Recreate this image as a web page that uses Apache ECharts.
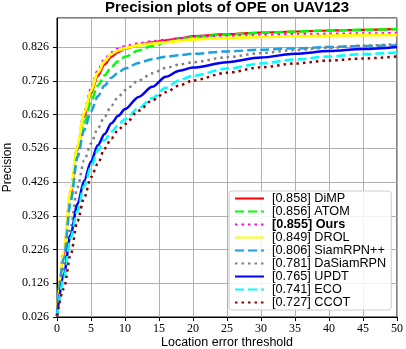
<!DOCTYPE html>
<html>
<head>
<meta charset="utf-8">
<script src="https://cdn.jsdelivr.net/npm/echarts@6/dist/echarts.min.js"></script>
<style>
  html, body { margin: 0; padding: 0; background: #fff; }
  #chart { width: 406px; height: 349px; }
</style>
</head>
<body>
<div id="chart"></div>
<script>
// location error thresholds (x)
const thresholds = [0, 1, 2, 3, 4, 5, 6, 7, 8, 9, 10, 12, 14, 16, 18, 20, 25, 30, 35, 40, 45, 50];

// precision values
const dimp      = [0.03, 0.21, 0.39, 0.52, 0.62, 0.688, 0.740, 0.774, 0.797, 0.811, 0.821, 0.832, 0.840, 0.846, 0.852, 0.858, 0.864, 0.869, 0.872, 0.875, 0.877, 0.879];
const atom      = [0.03, 0.20, 0.37, 0.50, 0.60, 0.665, 0.712, 0.742, 0.767, 0.784, 0.797, 0.816, 0.830, 0.840, 0.849, 0.856, 0.863, 0.868, 0.872, 0.875, 0.877, 0.879];
const ours      = [0.03, 0.22, 0.40, 0.53, 0.635, 0.702, 0.756, 0.790, 0.810, 0.821, 0.828, 0.837, 0.843, 0.847, 0.851, 0.855, 0.859, 0.862, 0.864, 0.865, 0.866, 0.867];
const drol      = [0.03, 0.22, 0.40, 0.53, 0.63, 0.696, 0.750, 0.784, 0.805, 0.816, 0.823, 0.831, 0.836, 0.840, 0.844, 0.849, 0.853, 0.856, 0.858, 0.860, 0.861, 0.862];
const siamrpnpp = [0.03, 0.20, 0.37, 0.50, 0.58, 0.635, 0.680, 0.712, 0.735, 0.750, 0.762, 0.779, 0.790, 0.797, 0.802, 0.806, 0.813, 0.818, 0.822, 0.826, 0.829, 0.831];
const dasiamrpn = [0.03, 0.17, 0.29, 0.41, 0.49, 0.540, 0.585, 0.620, 0.652, 0.678, 0.698, 0.727, 0.748, 0.764, 0.774, 0.781, 0.796, 0.808, 0.817, 0.824, 0.830, 0.835];
const updt      = [0.03, 0.15, 0.27, 0.36, 0.43, 0.487, 0.535, 0.568, 0.600, 0.622, 0.642, 0.678, 0.708, 0.738, 0.756, 0.765, 0.781, 0.795, 0.806, 0.814, 0.820, 0.826];
const eco       = [0.03, 0.14, 0.26, 0.34, 0.415, 0.470, 0.520, 0.550, 0.575, 0.595, 0.612, 0.645, 0.675, 0.705, 0.728, 0.741, 0.762, 0.777, 0.789, 0.798, 0.805, 0.810];
const ccot      = [0.03, 0.11, 0.21, 0.31, 0.38, 0.440, 0.480, 0.525, 0.555, 0.580, 0.598, 0.637, 0.668, 0.692, 0.712, 0.727, 0.750, 0.766, 0.777, 0.786, 0.792, 0.798];

const names = ["[0.858] DiMP", "[0.856] ATOM", "[0.855] Ours", "[0.849] DROL", "[0.806] SiamRPN++",
               "[0.781] DaSiamRPN", "[0.765] UPDT", "[0.741] ECO", "[0.727] CCOT"];
const values = [dimp, atom, ours, drol, siamrpnpp, dasiamrpn, updt, eco, ccot];

// y ticks start at 0.026, step 0.1
const yMin = 0.026;
const yMax = 0.912;

const DASH = [9, 4];
const DOT = [2.5, 4];
const styles = [
  { color: "#ff0000", type: "solid", width: 2.2 },
  { color: "#00ff00", type: DASH, width: 2.5 },
  { color: "#ff00ff", type: DOT, width: 2.5 },
  { color: "#ffff00", type: "solid", width: 2.8 },
  { color: "#1e9fe3", type: DASH, width: 2.5 },
  { color: "#808080", type: DOT, width: 2.5 },
  { color: "#0000ff", type: "solid", width: 2.5 },
  { color: "#00ffff", type: DASH, width: 2.5 },
  { color: "#8b0000", type: DOT, width: 2.5 }
];

const series = names.map((name, i) => ({
  name: name,
  type: "line",
  data: thresholds.map((t, j) => [t, values[i][j]]),
  symbol: "none",
  smooth: 0.3,
  smoothMonotone: "x",
  lineStyle: styles[i],
  itemStyle: { color: styles[i].color }
}));

const chart = echarts.init(document.getElementById("chart"));
chart.setOption({
  animation: false,
  title: {
    text: "Precision plots of OPE on UAV123",
    left: 227,
    top: 0,
    padding: 0,
    textAlign: "center",
    textStyle: { fontFamily: "Liberation Sans", fontSize: 15, fontWeight: "bold", color: "#000" }
  },
  grid: {
    left: 57, right: 9, top: 18, bottom: 32,
    outerBoundsMode: "none",
    containLabel: false,
    show: true, borderColor: "#000", borderWidth: 1
  },
  legend: {
    orient: "vertical",
    left: 229,
    top: 191,
    itemWidth: 29,
    itemHeight: 10,
    itemGap: 0,
    padding: [1, 5, 1, 5],
    backgroundColor: "rgba(255,255,255,0.85)",
    borderColor: "#cccccc",
    borderWidth: 1,
    borderRadius: 3,
    itemStyle: { opacity: 0 },
    data: names,
    formatter: n => (n === "[0.855] Ours" ? "{b|" + n + "}" : n),
    textStyle: {
      fontFamily: "Liberation Sans",
      fontSize: 12.7,
      lineHeight: 12.6,
      color: "#000",
      padding: [0, 0, 0, 3],
      rich: { b: { fontFamily: "Liberation Sans", fontSize: 12.7, fontWeight: "bold", lineHeight: 12.6, color: "#000" } }
    }
  },
  xAxis: {
    type: "value",
    min: 0,
    max: 50,
    interval: 5,
    name: "Location error threshold",
    nameLocation: "middle",
    nameGap: 19,
    nameMoveOverlap: false,
    nameTextStyle: { fontFamily: "Liberation Sans", fontSize: 12.5, color: "#000" },
    axisLine: { lineStyle: { color: "#000", width: 1 } },
    axisTick: { length: 4, lineStyle: { color: "#000" } },
    axisLabel: { fontFamily: "Liberation Serif", fontSize: 12, color: "#000", margin: 6 },
    splitLine: { show: true, lineStyle: { color: "#b0b0b0", width: 1 } }
  },
  yAxis: {
    type: "value",
    min: yMin,
    max: yMax,
    interval: 0.1,
    name: "Precision",
    nameLocation: "middle",
    nameGap: 43,
    nameMoveOverlap: false,
    nameTextStyle: { fontFamily: "Liberation Sans", fontSize: 12, color: "#000" },
    axisLine: { show: true, lineStyle: { color: "#000", width: 1 } },
    axisTick: { show: true, length: 4, lineStyle: { color: "#000" } },
    axisLabel: {
      fontFamily: "Liberation Serif", fontSize: 12, color: "#000", margin: 8,
      showMaxLabel: false,
      formatter: v => v.toFixed(3)
    },
    splitLine: { show: true, lineStyle: { color: "#b0b0b0", width: 1 } }
  },
  series: series
});
</script>
</body>
</html>
